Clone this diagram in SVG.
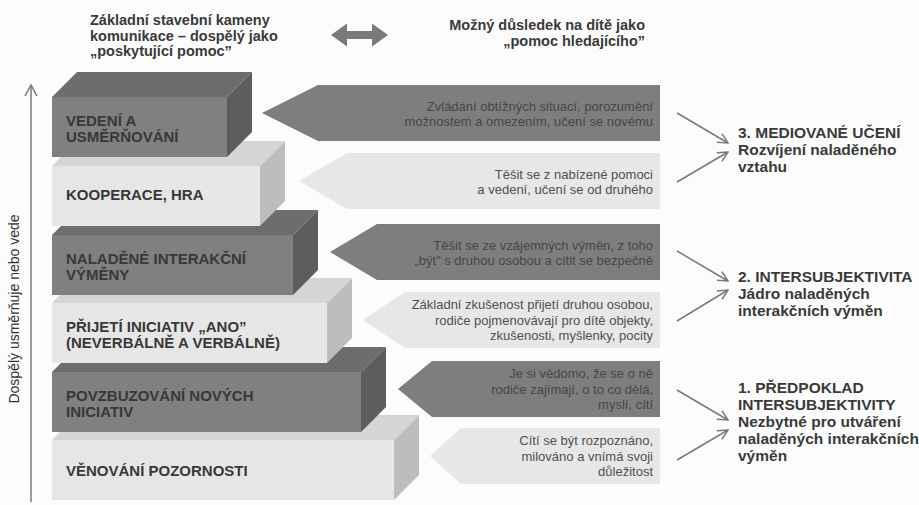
<svg xmlns="http://www.w3.org/2000/svg" width="919" height="505" viewBox="0 0 919 505">
<defs>
<style>
.hd{font-family:"Liberation Sans",Arial,sans-serif;font-weight:bold;font-size:14.5px;fill:#3a3a3a}
.lb{font-family:"Liberation Sans",Arial,sans-serif;font-weight:bold;font-size:15.5px;fill:#3a3a3a}
.bt{font-family:"Liberation Sans",Arial,sans-serif;font-weight:bold;font-size:15px;fill:#383838}
.at{font-family:"Liberation Sans",Arial,sans-serif;font-size:13px;text-anchor:end}
.atd{fill:#474747}
.atl{fill:#505050}
.ax{font-family:"Liberation Sans",Arial,sans-serif;font-size:14px;fill:#333}
.dF{fill:#808080}.dT{fill:#6d6d6d}.dS{fill:#5d5d5d}
.lF{fill:#e6e6e6}.lT{fill:#d5d5d5}.lS{fill:#bdbdbd}
.dA{fill:#7e7e7e}.lA{fill:#e7e7e7}
.con{stroke:#7a7a7a;stroke-width:1.5;fill:none;marker-end:url(#oa)}
</style>
<marker id="oa" viewBox="0 0 12 12" refX="11" refY="6" markerWidth="12" markerHeight="12" markerUnits="userSpaceOnUse" orient="auto">
<path d="M1,1 L11,6 L1,11" fill="none" stroke="#7a7a7a" stroke-width="1.5"/>
</marker>
</defs>
<rect width="919" height="505" fill="#fcfcfc"/>

<g id="axis">
<line x1="31" y1="502" x2="31" y2="85" stroke="#7a7a7a" stroke-width="1.5"/>
<polyline points="25,96 31,85 37,96" fill="none" stroke="#7a7a7a" stroke-width="1.5"/>
<text class="ax" transform="translate(19,309) rotate(-90)" text-anchor="middle">Dospělý usměrňuje nebo vede</text>
</g>

<g id="header-left">
<text class="hd" x="90" y="25">Základní stavební kameny</text>
<text class="hd" x="90" y="40.5">komunikace – dospělý jako</text>
<text class="hd" x="90" y="56">„poskytující pomoc”</text>
</g>
<g id="double-arrow">
<polygon points="331,35 347,23.5 347,31 372,31 372,23.5 388,35 372,46.5 372,39 347,39 347,46.5" fill="#7a7a7a"/>
</g>
<g id="header-right">
<text class="hd" x="645" y="30" text-anchor="end">Možný důsledek na dítě jako</text>
<text class="hd" x="645" y="45.5" text-anchor="end">„pomoc hledajícího”</text>
</g>

<g id="block6">
<polygon class="lT" points="52,440 77,415 419,415 394,440"/>
<polygon class="lS" points="394,440 419,415 419,475 394,500"/>
<rect class="lF" x="52" y="440" width="342" height="60"/>
<text class="bt" x="66" y="476">VĚNOVÁNÍ POZORNOSTI</text>
</g>
<g id="block5">
<polygon class="dT" points="52,372 77,347 386,347 361,372"/>
<polygon class="dS" points="361,372 386,347 386,407 361,432"/>
<rect class="dF" x="52" y="372" width="309" height="60"/>
<text class="bt" x="66" y="401">POVZBUZOVÁNÍ NOVÝCH</text>
<text class="bt" x="66" y="417">INICIATIV</text>
</g>
<g id="block4">
<polygon class="lT" points="52,303 77,278 352,278 327,303"/>
<polygon class="lS" points="327,303 352,278 352,338 327,363"/>
<rect class="lF" x="52" y="303" width="275" height="60"/>
<text class="bt" x="66" y="332">PŘIJETÍ INICIATIV „ANO”</text>
<text class="bt" x="66" y="348">(NEVERBÁLNĚ A VERBÁLNĚ)</text>
</g>
<g id="block3">
<polygon class="dT" points="52,235 77,210 318,210 293,235"/>
<polygon class="dS" points="293,235 318,210 318,270 293,295"/>
<rect class="dF" x="52" y="235" width="241" height="60"/>
<text class="bt" x="66" y="264">NALADĚNÉ INTERAKČNÍ</text>
<text class="bt" x="66" y="280">VÝMĚNY</text>
</g>
<g id="block2">
<polygon class="lT" points="52,166 77,141 285,141 260,166"/>
<polygon class="lS" points="260,166 285,141 285,201 260,226"/>
<rect class="lF" x="52" y="166" width="208" height="60"/>
<text class="bt" x="66" y="200">KOOPERACE, HRA</text>
</g>
<g id="block1">
<polygon class="dT" points="52,97 77,72 252,72 227,97"/>
<polygon class="dS" points="227,97 252,72 252,132 227,157"/>
<rect class="dF" x="52" y="97" width="175" height="60"/>
<text class="bt" x="66" y="126">VEDENÍ A</text>
<text class="bt" x="66" y="142">USMĚRŇOVÁNÍ</text>
</g>

<g id="arrow1">
<polygon class="dA" points="262,113 318,85 660,85 660,141 318,141"/>
<text class="at atd" x="653" y="110.5">Zvládání obtížných situací, porozumění</text>
<text class="at atd" x="653" y="126">možnostem a omezením, učení se novému</text>
</g>
<g id="arrow2">
<polygon class="lA" points="299,181 347,153 660,153 660,209 347,209"/>
<text class="at atl" x="653" y="178.5">Těšit se z nabízené pomoci</text>
<text class="at atl" x="653" y="194">a vedení, učení se od druhého</text>
</g>
<g id="arrow3">
<polygon class="dA" points="330,252 377,224 660,224 660,280 377,280"/>
<text class="at atd" x="653" y="249.5">Těšit se ze vzájemných výměn, z toho</text>
<text class="at atd" x="653" y="265">„být” s druhou osobou a cítit se bezpečně</text>
</g>
<g id="arrow4">
<polygon class="lA" points="363,320 405,292 660,292 660,348 405,348"/>
<text class="at atl" x="653" y="309">Základní zkušenost přijetí druhou osobou,</text>
<text class="at atl" x="653" y="324.5">rodiče pojmenovávají pro dítě objekty,</text>
<text class="at atl" x="653" y="340">zkušenosti, myšlenky, pocity</text>
</g>
<g id="arrow5">
<polygon class="dA" points="398,389 432,361 660,361 660,417 432,417"/>
<text class="at atd" x="653" y="378">Je si vědomo, že se o ně</text>
<text class="at atd" x="653" y="393.5">rodiče zajímají, o to co dělá,</text>
<text class="at atd" x="653" y="409">myslí, cítí</text>
</g>
<g id="arrow6">
<polygon class="lA" points="430,456 461,428 660,428 660,484 461,484"/>
<text class="at atl" x="653" y="445">Cítí se být rozpoznáno,</text>
<text class="at atl" x="653" y="460.5">milováno a vnímá svoji</text>
<text class="at atl" x="653" y="476">důležitost</text>
</g>

<g id="connectors">
<line class="con" x1="677" y1="113" x2="728" y2="143"/>
<line class="con" x1="677" y1="182" x2="728" y2="152"/>
<line class="con" x1="677" y1="251" x2="728" y2="281"/>
<line class="con" x1="677" y1="321" x2="728" y2="290"/>
<line class="con" x1="677" y1="390" x2="728" y2="420"/>
<line class="con" x1="677" y1="460" x2="728" y2="430"/>
</g>

<g id="label3">
<text class="lb" x="738" y="138">3. MEDIOVANÉ UČENÍ</text>
<text class="lb" x="738" y="155">Rozvíjení naladěného</text>
<text class="lb" x="738" y="172">vztahu</text>
</g>
<g id="label2">
<text class="lb" x="738" y="282">2. INTERSUBJEKTIVITA</text>
<text class="lb" x="738" y="299">Jádro naladěných</text>
<text class="lb" x="738" y="316">interakčních výměn</text>
</g>
<g id="label1">
<text class="lb" x="738" y="393">1. PŘEDPOKLAD</text>
<text class="lb" x="738" y="410">INTERSUBJEKTIVITY</text>
<text class="lb" x="738" y="427">Nezbytné pro utváření</text>
<text class="lb" x="738" y="444">naladěných interakčních</text>
<text class="lb" x="738" y="461">výměn</text>
</g>
</svg>
